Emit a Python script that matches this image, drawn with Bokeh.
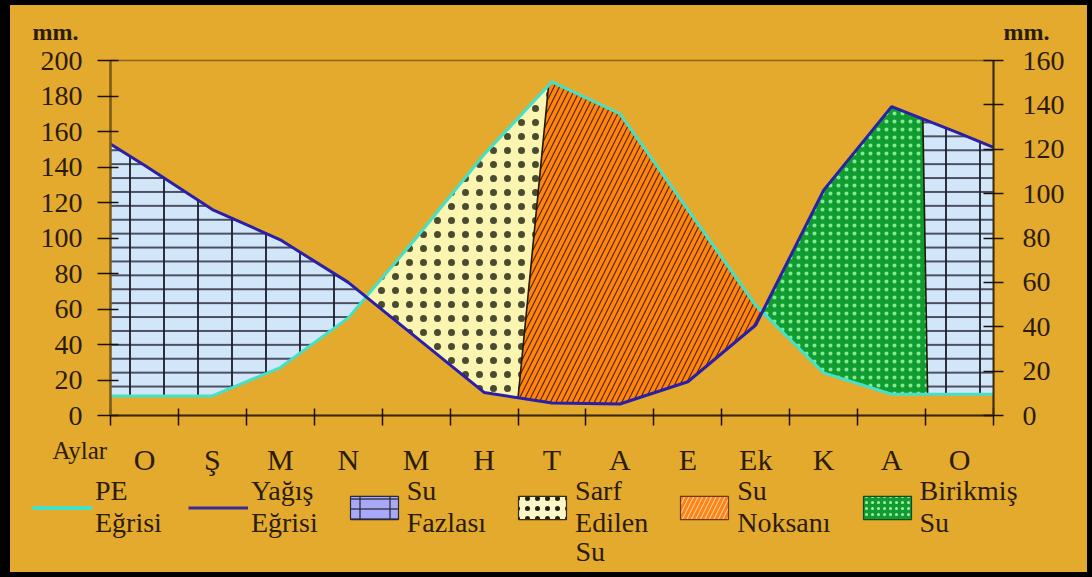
import numpy as np
from bokeh.plotting import figure
from bokeh.layouts import column
from bokeh.models import (LinearAxis, Range1d, FixedTicker, Legend, LegendItem, Label)
from bokeh.core.properties import value
from bokeh.embed import file_html
from bokeh.resources import INLINE

# ---------------- data ----------------
months = ["O", "Ş", "M", "N", "M", "H", "T", "A", "E", "Ek", "K", "A", "O"]
# values (mm) at left edge, at the middle of each month, and at right edge
pe_values = [11, 11, 11, 27, 55, 100, 147, 188, 170, 116, 62, 24, 12, 12, 12]
rain_values = [153, 141, 116, 99, 75, 44, 13, 7, 6.5, 19, 51, 127, 174, 159, 151]
left_ticks = [0, 20, 40, 60, 80, 100, 120, 140, 160, 180, 200]
right_ticks = [0, 20, 40, 60, 80, 100, 120, 140, 160]
# borders of regions (in month units): end of "Sarf Edilen Su" and end of "Birikmiş Su"
sarf_end_top, sarf_end_bottom = 6.45, 6.0
birikmis_end_top, birikmis_end_bottom = 11.96, 12.03
legend_labels = ["PE\nEğrisi", "Yağış\nEğrisi", "Su\nFazlası", "Sarf\nEdilen",
                 "Su\nNoksanı", "Birikmiş\nSu"]
legend_extra_line = "Su"      # third line of "Sarf Edilen Su"
unit_text = "mm."
month_title = "Aylar"

# ---------------- geometry helpers ----------------
n = len(months)
xs = [0.0] + [i + 0.5 for i in range(n)] + [float(n)]
centers = [i + 0.5 for i in range(n)]
pe = np.array(pe_values, dtype=float)
rain = np.array(rain_values, dtype=float)


def trace(arr, a, b):
    inner = [x for x in xs if min(a, b) < x < max(a, b)]
    if a > b:
        inner = inner[::-1]
    px = [a] + inner + [b]
    return px, list(np.interp(px, xs, arr))


d = rain - pe
cross = []
for i in range(len(xs) - 1):
    if d[i] * d[i + 1] < 0:
        t = d[i] / (d[i] - d[i + 1])
        cross.append(xs[i] + t * (xs[i + 1] - xs[i]))
c1, c2 = cross[0], cross[1]


def region(first, a, b, second, c, e):
    x1, y1 = trace(first, a, b)
    x2, y2 = trace(second, c, e)
    return x1 + x2, y1 + y2


BG = "#E3AA2E"
TXT = "#2B1C08"
SERIF = "Liberation Serif"
PE_COL = "#45E0C8"
RAIN_COL = "#2A1FA8"
FAZ = "#D2E6FA"
SARF = "#FBF5B2"
NOK = "#FF8410"
BIR = "#109C30"

W = 1077
LEFT, RIGHT = 100, 94
H_TOP, H_MAIN, H_BOT = 40, 387, 140
FRAME_W = W - LEFT - RIGHT


def no_align(f):
    if "frame_align" in f.properties():
        f.frame_align = False


def bare(f):
    f.background_fill_color = BG
    f.border_fill_color = BG
    f.outline_line_color = None
    f.xgrid.visible = False
    f.ygrid.visible = False
    f.min_border_left = f.min_border_right = 0
    f.min_border_top = f.min_border_bottom = 0
    no_align(f)


# ================= top strip (units) =================
top = figure(width=W, height=H_TOP, output_backend="svg", toolbar_location=None,
             x_axis_location=None, y_axis_location=None,
             x_range=Range1d(0, W), y_range=Range1d(0, H_TOP))
bare(top)
for ux in (22, LEFT + FRAME_W + 10):
    top.add_layout(Label(x=ux, y=14, x_units="screen", y_units="screen", text=unit_text,
                         text_font=SERIF, text_font_size="24px", text_font_style="bold",
                         text_color=TXT, text_baseline="middle"))

# ================= main chart =================
fig = figure(width=W, height=H_MAIN, output_backend="svg", toolbar_location=None,
             x_range=Range1d(0, n), y_range=Range1d(0, 200),
             min_border_left=LEFT, min_border_right=RIGHT, min_border_top=15,
             min_border_bottom=17)
no_align(fig)
fig.background_fill_color = BG
fig.border_fill_color = BG
fig.xgrid.visible = False
fig.ygrid.visible = False
fig.outline_line_color = "#8A6420"
fig.outline_line_width = 1.5
fig.extra_y_ranges = {"right": Range1d(0, 160)}

fx, fy = region(rain, 0, c1, pe, c1, 0)                                   # Su Fazlası (left)
sx, sy = region(pe, c1, sarf_end_top, rain, sarf_end_bottom, c1)          # Sarf Edilen Su
nx, ny = region(pe, sarf_end_top, c2, rain, c2, sarf_end_bottom)          # Su Noksanı
bx, by = region(rain, c2, birikmis_end_top, pe, birikmis_end_bottom, c2)  # Birikmiş Su
gx, gy = region(rain, birikmis_end_top, n, pe, n, birikmis_end_bottom)    # Su Fazlası (right)

for X, Y in [(fx, fy), (gx, gy)]:
    fig.patch(X, Y, fill_color=FAZ, line_alpha=0, hatch_pattern="-", hatch_scale=13.9,
              hatch_color="#2a2a3a", hatch_weight=1.6)
    fig.patch(X, Y, fill_alpha=0, line_alpha=0, hatch_pattern="|", hatch_scale=34,
              hatch_color="#1a1a2a", hatch_weight=1.8)
fig.patch(sx, sy, fill_color=SARF, line_alpha=0, hatch_pattern=".", hatch_scale=14,
          hatch_color="#4a4a30", hatch_weight=1.5)
fig.patch(nx, ny, fill_color=NOK, line_alpha=0, hatch_pattern="/", hatch_scale=11,
          hatch_color="#5a2800", hatch_weight=1.2)
fig.patch(bx, by, fill_color=BIR, line_alpha=0, hatch_pattern=".", hatch_scale=8,
          hatch_color="#86e890", hatch_weight=0.8)

fig.line([sarf_end_top, sarf_end_bottom],
         [float(np.interp(sarf_end_top, xs, pe)), float(np.interp(sarf_end_bottom, xs, rain))],
         line_color="#201808", line_width=1.6)
fig.line([birikmis_end_top, birikmis_end_bottom],
         [float(np.interp(birikmis_end_top, xs, rain)), float(np.interp(birikmis_end_bottom, xs, pe))],
         line_color="#201808", line_width=1.6)

fig.line(xs, pe_values, line_color=PE_COL, line_width=3)
fig.line(xs, rain_values, line_color=RAIN_COL, line_width=3)

ya = fig.yaxis[0]
ya.ticker = FixedTicker(ticks=left_ticks)
ya.axis_line_color = "#7A5A18"
ya.axis_line_width = 2.5
ya.major_tick_in = 8
ya.major_tick_out = 13
ya.major_tick_line_color = "#1a1208"
ya.major_tick_line_width = 1.5
ya.minor_tick_line_alpha = 0
ya.major_label_standoff = 15
ya.major_label_text_font = SERIF
ya.major_label_text_font_size = "28px"
ya.major_label_text_color = TXT

ra = LinearAxis(y_range_name="right", ticker=FixedTicker(ticks=right_ticks))
ra.axis_line_color = "#3a2a10"
ra.axis_line_width = 2
ra.major_tick_in = 10
ra.major_tick_out = 10
ra.major_tick_line_color = "#1a1208"
ra.major_tick_line_width = 1.5
ra.minor_tick_line_alpha = 0
ra.major_label_standoff = 19
ra.major_label_text_font = SERIF
ra.major_label_text_font_size = "28px"
ra.major_label_text_color = TXT
fig.add_layout(ra, "right")

# x axis: month boundaries as (minor) ticks, names are drawn in the strip below
xa = fig.xaxis[0]
xa.ticker = FixedTicker(ticks=[], minor_ticks=list(range(n + 1)))
xa.axis_line_color = "#3a2a10"
xa.axis_line_width = 2
xa.major_tick_line_alpha = 0
xa.minor_tick_in = 7
xa.minor_tick_out = 10
xa.minor_tick_line_color = "#1a1208"
xa.minor_tick_line_width = 1.5
xa.major_label_standoff = 0

# ================= bottom strip (month names + legend) =================
x_per_px = n / FRAME_W
bot = figure(width=W, height=H_BOT, output_backend="svg", toolbar_location=None,
             x_axis_location=None, y_axis_location=None,
             x_range=Range1d(-LEFT * x_per_px, n + RIGHT * x_per_px),
             y_range=Range1d(0, H_BOT))
bare(bot)

bot.text(x=centers, y=[113] * n, text=months, text_font=value(SERIF),
         text_font_size="30px", text_color=TXT, text_align="center",
         text_baseline="middle")
bot.add_layout(Label(x=42, y=122, x_units="screen", y_units="screen", text=month_title,
                     text_font=SERIF, text_font_size="25px", text_color=TXT,
                     text_baseline="middle"))

# legend proxies (placed outside the visible range, used only for the legend swatches)
ox, oy = [-50, -49, -49], [-50, -50, -49]
lg_pe = bot.line(ox[:2], oy[:2], line_color=PE_COL, line_width=4)
lg_rain = bot.line(ox[:2], oy[:2], line_color="#3a2a9a", line_width=3)
lg_f1 = bot.patch(ox, oy, fill_color="#A8A8F6", line_color="#2a2a3a", line_width=1.2,
                  hatch_pattern="-", hatch_scale=10, hatch_color="#2a2a3a", hatch_weight=1.3)
lg_f2 = bot.patch(ox, oy, fill_alpha=0, line_alpha=0, hatch_pattern="|", hatch_scale=30,
                  hatch_color="#2a2a3a", hatch_weight=1.3)
lg_s = bot.patch(ox, oy, fill_color="#FAF6C8", line_color="#3a2a10", line_width=1.2,
                 hatch_pattern=".", hatch_scale=10, hatch_color="#202010", hatch_weight=1.6)
lg_n = bot.patch(ox, oy, fill_color="#FF8418", line_color="#6a3a10", line_width=1.2,
                 hatch_pattern="/", hatch_scale=9, hatch_color="#FFD8A8", hatch_weight=1.0)
lg_b = bot.patch(ox, oy, fill_color=BIR, line_color="#1a4a1a", line_width=1.2,
                 hatch_pattern=".", hatch_scale=6, hatch_color="#a8f0a8", hatch_weight=1.0)

legend = Legend(items=[
    LegendItem(label=legend_labels[0], renderers=[lg_pe]),
    LegendItem(label=legend_labels[1], renderers=[lg_rain]),
    LegendItem(label=legend_labels[2], renderers=[lg_f1, lg_f2]),
    LegendItem(label=legend_labels[3], renderers=[lg_s]),
    LegendItem(label=legend_labels[4], renderers=[lg_n]),
    LegendItem(label=legend_labels[5], renderers=[lg_b]),
], orientation="horizontal", location=(22, 33))
legend.glyph_width = 60
legend.glyph_height = 29
legend.label_standoff = 3
legend.spacing = 26
legend.padding = 0
legend.margin = 0
legend.background_fill_alpha = 0
legend.border_line_alpha = 0
legend.label_text_font = SERIF
legend.label_text_font_size = "28px"
legend.label_text_color = TXT
legend.label_text_line_height = 1.1
bot.add_layout(legend, "center")
bot.add_layout(Label(x=565, y=21, x_units="screen", y_units="screen", text=legend_extra_line,
                     text_font=SERIF, text_font_size="28px", text_color=TXT,
                     text_baseline="middle"))

p = column(top, fig, bot, spacing=0,
           styles={"border-style": "solid", "border-color": "black",
                   "border-width": "5px 5px 5px 10px", "background-color": BG})
open("out.html", "w").write(file_html(p, INLINE))
